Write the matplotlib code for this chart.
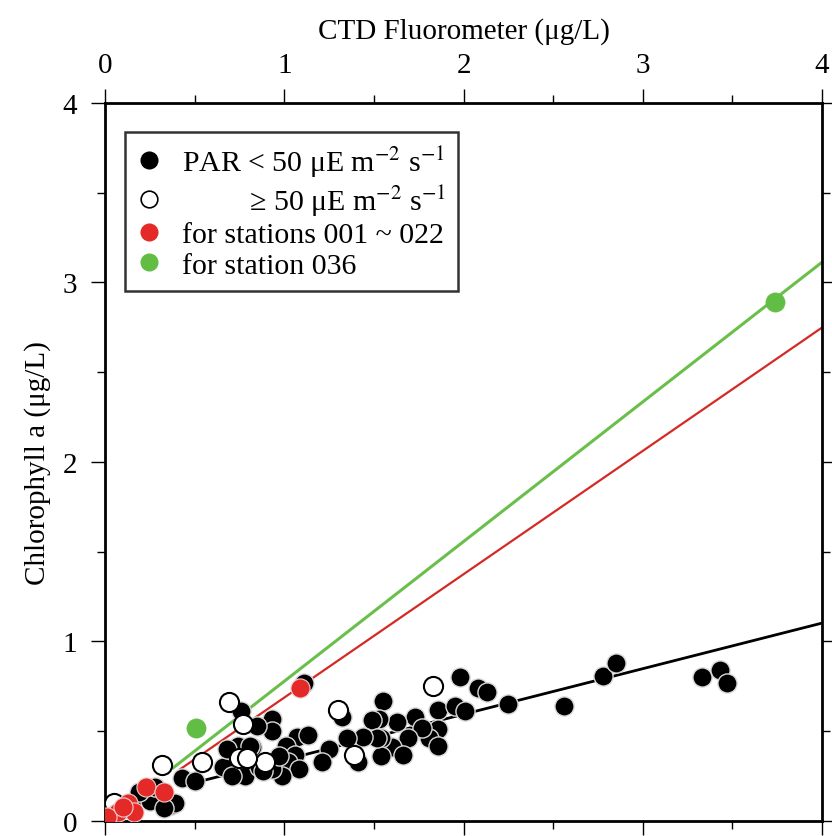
import matplotlib
matplotlib.use("Agg")
import matplotlib.pyplot as plt
from matplotlib.lines import Line2D
from matplotlib.ticker import MultipleLocator

plt.rcParams['font.family'] = ['Liberation Serif', 'DejaVu Serif']
plt.rcParams['mathtext.fontset'] = 'stix'

# PAR < 50 uE m-2 s-1
low_x = [3.33, 3.43, 3.47, 2.56, 2.78, 2.85, 1.98, 2.08, 2.13, 2.25,
         1.86, 1.95, 2.01, 1.73, 1.63, 1.55, 1.53, 1.86, 1.81, 1.86,
         1.77, 1.69, 1.60, 1.66, 1.54, 1.54, 1.11, 1.32, 1.49, 1.52,
         1.44, 1.41, 1.35, 1.25, 1.21, 1.07, 1.13, 1.01, 1.06, 1.02,
         1.08, 0.99, 0.93, 0.93, 0.93, 0.85, 0.76, 0.82, 0.78, 0.74,
         0.81, 0.66, 0.71, 0.43, 0.50, 0.30, 0.20, 0.25, 0.37, 0.39,
         0.28, 0.86, 0.88, 0.68, 0.97, 0.19, 0.33]
low_y = [0.80, 0.84, 0.77, 0.64, 0.81, 0.88, 0.80, 0.74, 0.72, 0.65,
         0.62, 0.64, 0.61, 0.58, 0.55, 0.67, 0.57, 0.51, 0.46, 0.42,
         0.52, 0.46, 0.41, 0.37, 0.46, 0.36, 0.77, 0.58, 0.56, 0.46,
         0.47, 0.33, 0.46, 0.40, 0.33, 0.47, 0.48, 0.42, 0.37, 0.33,
         0.29, 0.25, 0.29, 0.57, 0.50, 0.53, 0.61, 0.41, 0.25, 0.42,
         0.42, 0.30, 0.25, 0.24, 0.22, 0.12, 0.14, 0.11, 0.09, 0.10,
         0.19, 0.30, 0.28, 0.40, 0.36, 0.16, 0.07]

# PAR >= 50 uE m-2 s-1
high_x = [0.69, 0.77, 0.54, 0.32, 0.75, 0.89, 0.79, 1.30, 1.39, 1.83, 0.05]
high_y = [0.66, 0.54, 0.33, 0.31, 0.35, 0.33, 0.35, 0.62, 0.37, 0.75, 0.10]

# stations 001 ~ 022
red_x = [1.09, 0.23, 0.33, 0.13, 0.16, 0.04, 0.07, 0.01, 0.10]
red_y = [0.74, 0.19, 0.16, 0.10, 0.05, 0.03, 0.05, 0.02, 0.08]

# station 036
green_x = [0.51, 3.74]
green_y = [0.52, 2.89]

# regression lines: (slope, intercept, x start)
fit_black = (0.254, 0.086, 0.50)
fit_red = (0.687, 0.0, 0.42)
fit_green = (0.778, 0.0, 0.38)

RED = '#e42a28'
GREEN = '#62bd45'

fig = plt.figure(figsize=(8.32, 8.37), dpi=100)
ax = fig.add_axes([0.1262, 0.018, 0.8618, 0.858])

for (m, b, x0), c, lw in [(fit_green, '#6abf4b', 2.2), (fit_red, '#d42a26', 1.6),
                          (fit_black, 'black', 2.0)]:
    ax.plot([x0, 4], [b + m * x0, b + m * 4], color=c, lw=lw, zorder=2)

ms = 190
ax.scatter(low_x, low_y, s=ms, c='black', edgecolors='#d8d8d8', linewidths=1.0, zorder=3)
ax.scatter(high_x, high_y, s=ms, c='white', edgecolors='black', linewidths=1.5, zorder=4)
ax.scatter(red_x, red_y, s=ms, c=RED, edgecolors='#f0d0d0', linewidths=0.8, zorder=5)
ax.scatter(green_x, green_y, s=ms, c=GREEN, edgecolors=GREEN, linewidths=0.5, zorder=5)

ax.set_xlim(0, 4)
ax.set_ylim(0, 4)
ax.xaxis.set_major_locator(MultipleLocator(1))
ax.xaxis.set_minor_locator(MultipleLocator(0.5))
ax.yaxis.set_major_locator(MultipleLocator(1))
ax.yaxis.set_minor_locator(MultipleLocator(0.5))
ax.xaxis.tick_top()
ax.xaxis.set_label_position('top')
ax.tick_params(axis='x', which='both', top=True, bottom=True, direction='out',
               labeltop=True, labelbottom=False, labelsize=21, pad=8)
ax.tick_params(axis='y', which='both', left=True, right=True, direction='out',
               labelsize=21, pad=10)
ax.tick_params(which='major', length=10, width=1.0)
ax.tick_params(which='minor', length=6, width=1.0)
for s in ax.spines.values():
    s.set_linewidth(2.0)

ax.set_xlabel('CTD Fluorometer (μg/L)', fontsize=21, labelpad=10)
ax.set_ylabel('Chlorophyll a (μg/L)', fontsize=21, labelpad=8)

unit = r' μE m$^{\mathsf{-}2}$ s$^{\mathsf{-}1}$'
handles = [
    Line2D([], [], ls='', marker='o', ms=12, mfc='black', mec='black'),
    Line2D([], [], ls='', marker='o', ms=12, mfc='white', mec='black', mew=1.2),
    Line2D([], [], ls='', marker='o', ms=12, mfc=RED, mec=RED),
    Line2D([], [], ls='', marker='o', ms=12, mfc=GREEN, mec=GREEN),
]
labels = ['PAR < 50' + unit,
          '         ≥ 50' + unit,
          'for stations 001 ~ 022',
          'for station 036']
leg = ax.legend(handles, labels, loc='upper left', bbox_to_anchor=(0.028, 0.96),
                fontsize=21.5, frameon=True, fancybox=False, edgecolor='black',
                handlelength=0.8, handletextpad=0.7, labelspacing=0.12,
                borderpad=0.4, borderaxespad=0)
leg.get_frame().set_linewidth(1.8)
leg.set_zorder(10)

fig.savefig('out.png', dpi=100)
